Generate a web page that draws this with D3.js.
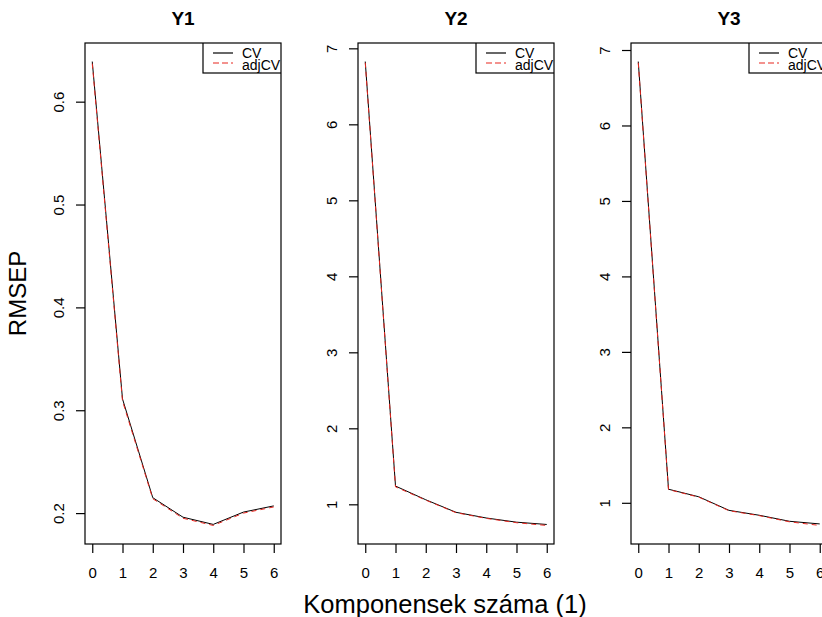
<!DOCTYPE html>
<html>
<head>
<meta charset="utf-8">
<script src="https://cdn.jsdelivr.net/npm/d3@7"></script>
<style>
  body { margin: 0; background: #fff; }
  svg { display: block; font-family: Arial, "Liberation Sans", sans-serif; }
</style>
</head>
<body>
<div id="chart"></div>
<script>
// number of components on the x axis
const components = [0, 1, 2, 3, 4, 5, 6];
const xTicks = [0, 1, 2, 3, 4, 5, 6];
const panelTitles = ["Y1", "Y2", "Y3"];
const legendLabels = ["CV", "adjCV"];

// RMSEP values
const cvY1 = [0.639, 0.311, 0.215, 0.196, 0.189, 0.201, 0.207];
const adjY1 = [0.637, 0.309, 0.214, 0.195, 0.188, 0.200, 0.206];
const cvY2 = [6.826, 1.24, 1.06, 0.895, 0.82, 0.765, 0.735];
const adjY2 = [6.81, 1.23, 1.055, 0.89, 0.815, 0.758, 0.722];
const cvY3 = [6.847, 1.18, 1.08, 0.90, 0.835, 0.755, 0.72];
const adjY3 = [6.83, 1.175, 1.075, 0.895, 0.83, 0.748, 0.70];

const yTicksY1 = [0.2, 0.3, 0.4, 0.5, 0.6];
const yTicksY23 = [1, 2, 3, 4, 5, 6, 7];

const panels = [
  { title: panelTitles[0], cv: cvY1, adj: adjY1, ticks: yTicksY1, fmt: d3.format(".1f") },
  { title: panelTitles[1], cv: cvY2, adj: adjY2, ticks: yTicksY23, fmt: d3.format("d") },
  { title: panelTitles[2], cv: cvY3, adj: adjY3, ticks: yTicksY23, fmt: d3.format("d") }
];

const W = 822, H = 617;
const lefts = [85, 358, 631];
const pw = 196, plotTop = 43, plotBottom = 544;

const svg = d3.select("#chart").append("svg")
  .attr("width", W).attr("height", H);

// R-style range padding (4%)
let padded = (vals) => {
  let ext = d3.extent(vals);
  let r = ext[1] - ext[0];
  return [ext[0] - 0.04 * r, ext[1] + 0.04 * r];
};

panels.forEach((p, i) => {
  let left = lefts[i], right = left + pw;

  let x = d3.scaleLinear()
    .domain(padded(components))
    .range([left, right]);
  let y = d3.scaleLinear()
    .domain(padded(p.cv.concat(p.adj)))
    .range([plotBottom, plotTop]);

  let g = svg.append("g");

  let clipId = "clip" + i;
  g.append("clipPath").attr("id", clipId)
    .append("rect")
      .attr("x", left).attr("y", plotTop)
      .attr("width", pw).attr("height", plotBottom - plotTop);

  // lines
  let line = d3.line()
    .x((d, k) => x(components[k]))
    .y(d => y(d));

  g.append("path")
    .datum(p.cv)
    .attr("d", line)
    .attr("fill", "none")
    .attr("stroke", "#000")
    .attr("stroke-width", 1);

  g.append("path")
    .datum(p.adj)
    .attr("d", line)
    .attr("fill", "none")
    .attr("stroke", "#e8261f")
    .attr("stroke-width", 1)
    .attr("stroke-dasharray", "5,4");

  // box
  g.append("rect")
    .attr("x", left).attr("y", plotTop)
    .attr("width", pw).attr("height", plotBottom - plotTop)
    .attr("fill", "none")
    .attr("stroke", "#000")
    .attr("stroke-width", 1.2);

  // x axis
  let xAxis = d3.axisBottom(x)
    .tickValues(xTicks)
    .tickSize(9)
    .tickPadding(14)
    .tickFormat(d3.format("d"));
  let gx = g.append("g")
    .attr("transform", "translate(0," + plotBottom + ")")
    .call(xAxis);
  gx.select(".domain").remove();
  gx.selectAll("line").attr("stroke", "#000").attr("stroke-width", 1.2);
  gx.selectAll("text")
    .attr("font-size", 15)
    .attr("fill", "#000");

  // y axis
  let yAxis = d3.axisLeft(y)
    .tickValues(p.ticks)
    .tickSize(9)
    .tickFormat(p.fmt);
  let gy = g.append("g")
    .attr("transform", "translate(" + left + ",0)")
    .call(yAxis);
  gy.select(".domain").remove();
  gy.selectAll("line").attr("stroke", "#000").attr("stroke-width", 1.2);
  gy.selectAll("text")
    .attr("x", null).attr("dy", null)
    .attr("font-size", 15)
    .attr("fill", "#000")
    .attr("text-anchor", "middle")
    .attr("transform", "translate(-21,0) rotate(-90)");

  // title
  g.append("text")
    .attr("x", (left + right) / 2)
    .attr("y", 25)
    .attr("text-anchor", "middle")
    .attr("font-size", 19)
    .attr("font-weight", "bold")
    .text(p.title);

  // legend, clipped to the plot area
  let lg = g.append("g").attr("clip-path", "url(#" + clipId + ")");
  lg.append("rect")
    .attr("x", right - 78).attr("y", plotTop)
    .attr("width", 78).attr("height", 30)
    .attr("fill", "#fff")
    .attr("stroke", "#000")
    .attr("stroke-width", 1.2);
  legendLabels.forEach((lab, k) => {
    lg.append("line")
      .attr("x1", right - 68).attr("x2", right - 48)
      .attr("y1", plotTop + 10 + k * 10).attr("y2", plotTop + 10 + k * 10)
      .attr("stroke", k == 0 ? "#000" : "#e8261f")
      .attr("stroke-width", 1.2)
      .attr("stroke-dasharray", k == 0 ? null : "6,3");
    lg.append("text")
      .attr("x", right - 39)
      .attr("y", plotTop + 15 + k * 12)
      .attr("font-size", 14)
      .text(lab);
  });
});

// outer axis titles
svg.append("text")
  .attr("transform", "translate(26,293.5) rotate(-90)")
  .attr("text-anchor", "middle")
  .attr("font-size", 24)
  .text("RMSEP");

svg.append("text")
  .attr("x", 445)
  .attr("y", 613)
  .attr("text-anchor", "middle")
  .attr("font-size", 25.5)
  .text("Komponensek száma (1)");
</script>
</body>
</html>
